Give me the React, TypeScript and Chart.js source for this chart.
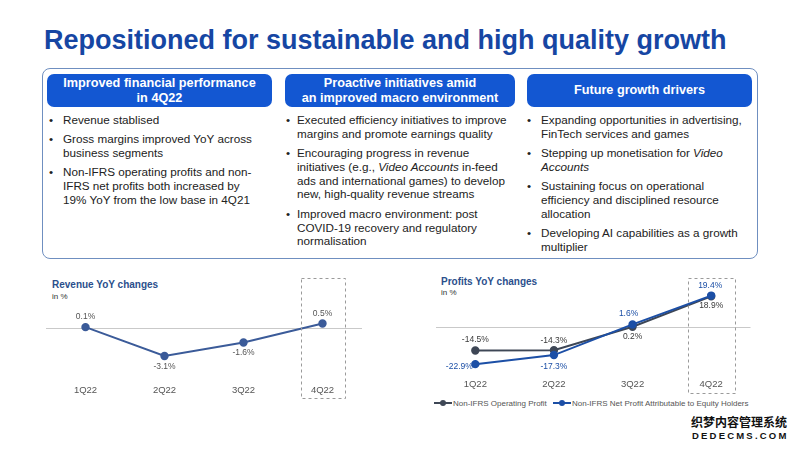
import React, { useEffect, useRef } from "react";
import { Chart, registerables } from "chart.js";
Chart.register(...registerables);

// ---------- data ----------
const quarters = ["1Q22", "2Q22", "3Q22", "4Q22"];
const revenueYoY = [0.1, -3.1, -1.6, 0.5];
const opProfitYoY = [-14.5, -14.3, 0.2, 18.9];
const netProfitYoY = [-22.9, -17.3, 1.6, 19.4];
const seriesNames = ["Non-IFRS Operating Profit", "Non-IFRS Net Profit Attributable to Equity Holders"];

const slideTitle = "Repositioned for sustainable and high quality growth";
const headers = [
  ["Improved financial performance", "in 4Q22"],
  ["Proactive initiatives amid", "an improved macro environment"],
  ["Future growth drivers"],
];
const col1Bullets = [
  ["Revenue stablised"],
  ["Gross margins improved YoY across", "business segments"],
  ["Non-IFRS operating profits and non-", "IFRS net profits both increased by", "19% YoY from the low base in 4Q21"],
];
const col2Bullets = [
  ["Executed efficiency initiatives to improve", "margins and promote earnings quality"],
  ["Encouraging progress in revenue", "initiatives (e.g., *Video Accounts* in-feed", "ads and international games) to develop", "new, high-quality revenue streams"],
  ["Improved macro environment: post", "COVID-19 recovery and regulatory", "normalisation"],
];
const col3Bullets = [
  ["Expanding opportunities in advertising,", "FinTech services and games"],
  ["Stepping up monetisation for *Video*", "*Accounts*"],
  ["Sustaining focus on operational", "efficiency and disciplined resource", "allocation"],
  ["Developing AI capabilities as a growth", "multiplier"],
];

// ---------- styles ----------
const FONT = '"Liberation Sans", Arial, Helvetica, sans-serif';
const TITLE_BLUE = "#1646a3";
const PILL_BLUE = "#1357d2";
const REV_COLOR = "#3b5b99";
const OP_COLOR = "#3e4756";
const NET_COLOR = "#1c4fa6";

// label offsets (px) relative to each point
const revLabelOffsets = [[0, -10], [0, 11], [0, 10], [0, -10]];
const opLabelOffsets = [[0, -11], [0, -10], [0, 10], [0, 9]];
const netLabelOffsets = [[-16, 3], [0, 12], [-4, -11], [-1, -10]];

const fmt = (v: number) => v.toFixed(1) + "%";

const zeroLine = {
  id: "zeroLine",
  beforeDatasetsDraw(chart: any) {
    const { ctx, chartArea, scales } = chart;
    const y = Math.round(scales.y.getPixelForValue(0)) + 0.5;
    ctx.save();
    ctx.strokeStyle = "#c9c9c9";
    ctx.lineWidth = 1;
    ctx.beginPath();
    ctx.moveTo(chartArea.left, y);
    ctx.lineTo(chartArea.right, y);
    ctx.stroke();
    ctx.restore();
  },
};

const valueLabels = {
  id: "valueLabels",
  afterDatasetsDraw(chart: any, _a: any, opts: any) {
    const { ctx } = chart;
    ctx.save();
    ctx.font = `8.5px ${FONT}`;
    ctx.textAlign = "center";
    ctx.textBaseline = "middle";
    chart.data.datasets.forEach((ds: any, di: number) => {
      const meta = chart.getDatasetMeta(di);
      const offs = opts.offsets[di];
      ctx.fillStyle = opts.colors[di];
      meta.data.forEach((el: any, i: number) => {
        ctx.fillText(fmt(ds.data[i]), el.x + offs[i][0], el.y + offs[i][1]);
      });
    });
    ctx.restore();
  },
};

const dashedBox = {
  id: "dashedBox",
  afterDraw(chart: any, _a: any, opts: any) {
    const { ctx, scales } = chart;
    const cx = scales.x.getPixelForValue(opts.index);
    ctx.save();
    ctx.strokeStyle = "#9a9a9a";
    ctx.lineWidth = 1;
    ctx.setLineDash([3, 3]);
    ctx.strokeRect(Math.round(cx - opts.half) + 0.5, opts.top + 0.5, opts.half * 2, opts.height);
    ctx.restore();
  },
};

function ChartCanvas({ box, config }: { box: any; config: any }) {
  const ref = useRef<HTMLCanvasElement>(null);
  useEffect(() => {
    const c = new Chart(ref.current as HTMLCanvasElement, config);
    return () => c.destroy();
  }, []);
  return (
    <div style={{ position: "absolute", ...box }}>
      <canvas ref={ref} />
    </div>
  );
}

function renderLine(line: string, key: number) {
  const parts = line.split("*");
  return (
    <div key={key} style={{ whiteSpace: "nowrap" }}>
      {parts.map((p, i) => (i % 2 === 1 ? <i key={i}>{p}</i> : <span key={i}>{p}</span>))}
    </div>
  );
}

function BulletColumn({ items, bulletX, textX }: { items: string[][]; bulletX: number; textX: number }) {
  return (
    <div style={{ position: "absolute", left: textX, top: 113, fontFamily: FONT, fontSize: 11.7, lineHeight: "13.8px", color: "#222" }}>
      {items.map((lines, bi) => (
        <div key={bi} style={{ position: "relative", marginTop: bi === 0 ? 0 : 5.5 }}>
          <span style={{ position: "absolute", left: bulletX - textX - 2, top: 0 }}>•</span>
          {lines.map((l, li) => renderLine(l, li))}
        </div>
      ))}
    </div>
  );
}

function Pill({ left, width, lines }: { left: number; width: number; lines: string[] }) {
  return (
    <div
      style={{
        position: "absolute", left, top: 74, width, height: 33, background: PILL_BLUE, borderRadius: 7,
        color: "#fff", fontFamily: FONT, fontWeight: "bold", fontSize: 12.7, lineHeight: "15px",
        display: "flex", flexDirection: "column", alignItems: "center", justifyContent: "center", textAlign: "center",
      }}
    >
      {lines.map((l, i) => (
        <div key={i} style={{ whiteSpace: "nowrap" }}>{l}</div>
      ))}
    </div>
  );
}

export default function App() {
  const tickFont = { family: FONT, size: 9.5 };

  const revConfig = {
    type: "line",
    data: {
      labels: quarters,
      datasets: [
        { data: revenueYoY, borderColor: REV_COLOR, backgroundColor: REV_COLOR, borderWidth: 2, pointRadius: 3.2, tension: 0 },
      ],
    },
    options: {
      animation: false, responsive: true, maintainAspectRatio: false, events: [],
      layout: { padding: { left: 5, right: 8, top: 31, bottom: 0 } },
      plugins: {
        legend: { display: false }, tooltip: { enabled: false },
        valueLabels: { offsets: [revLabelOffsets], colors: ["#555"] },
        dashedBox: { index: 3, half: 22, top: 8, height: 120 },
      },
      scales: {
        x: { offset: true, grid: { display: false, drawTicks: false }, border: { display: false }, ticks: { color: "#555", font: tickFont, padding: 16.5 } },
        y: { display: false, min: -4.5, max: 3 },
      },
    },
    plugins: [zeroLine, valueLabels, dashedBox],
  };

  const profitConfig = {
    type: "line",
    data: {
      labels: quarters,
      datasets: [
        { label: seriesNames[0], data: opProfitYoY, borderColor: OP_COLOR, backgroundColor: OP_COLOR, borderWidth: 2, pointRadius: 3.2, tension: 0, order: 2 },
        { label: seriesNames[1], data: netProfitYoY, borderColor: NET_COLOR, backgroundColor: NET_COLOR, borderWidth: 2, pointRadius: 3.2, tension: 0, order: 1 },
      ],
    },
    options: {
      animation: false, responsive: true, maintainAspectRatio: false, events: [],
      layout: { padding: { left: 4.5, right: 9.5, top: 16.5, bottom: 0 } },
      plugins: {
        legend: { display: false }, tooltip: { enabled: false },
        valueLabels: { offsets: [opLabelOffsets, netLabelOffsets], colors: ["#3a3a3a", NET_COLOR] },
        dashedBox: { index: 3, half: 23.5, top: 8, height: 115 },
      },
      scales: {
        x: { offset: true, grid: { display: false, drawTicks: false }, border: { display: false }, ticks: { color: "#555", font: tickFont, padding: 6.6 } },
        y: { display: false, min: -28, max: 25 },
      },
    },
    plugins: [zeroLine, valueLabels, dashedBox],
  };

  const legendItem = (color: string, lineLeft: number, text: string) => (
    <div style={{ position: "absolute", left: lineLeft, top: 397, height: 12, display: "flex", alignItems: "center", fontFamily: FONT, fontSize: 8, color: "#555", whiteSpace: "nowrap" }}>
      <div style={{ position: "relative", width: 18, height: 12, marginRight: 1 }}>
        <div style={{ position: "absolute", left: 0, right: 0, top: 5, height: 2, background: color }} />
        <div style={{ position: "absolute", left: 6, top: 3, width: 6, height: 6, borderRadius: 3, background: color }} />
      </div>
      <span>{text}</span>
    </div>
  );

  return (
    <div style={{ position: "absolute", left: 0, top: 0, width: 800, height: 450, background: "#fff", overflow: "hidden" }}>
      <div style={{ position: "absolute", left: 44, top: 27, fontFamily: FONT, fontWeight: "bold", fontSize: 27, lineHeight: "27px", color: TITLE_BLUE, whiteSpace: "nowrap" }}>
        {slideTitle}
      </div>

      <div style={{ position: "absolute", left: 42, top: 68, width: 714, height: 189, border: "1px solid #6f8fc0", borderRadius: 8 }} />

      <Pill left={47} width={225} lines={headers[0]} />
      <Pill left={285} width={230} lines={headers[1]} />
      <Pill left={527} width={225} lines={headers[2]} />

      <BulletColumn items={col1Bullets} bulletX={51} textX={63} />
      <BulletColumn items={col2Bullets} bulletX={288} textX={297} />
      <BulletColumn items={col3Bullets} bulletX={529} textX={541} />

      <div style={{ position: "absolute", left: 52, top: 279, fontFamily: FONT, fontWeight: "bold", fontSize: 10, color: "#2b4f8c", whiteSpace: "nowrap" }}>Revenue YoY changes</div>
      <div style={{ position: "absolute", left: 52, top: 292, fontFamily: FONT, fontSize: 8, color: "#333" }}>in %</div>

      <div style={{ position: "absolute", left: 441, top: 276, fontFamily: FONT, fontWeight: "bold", fontSize: 10, color: "#2b4f8c", whiteSpace: "nowrap" }}>Profits YoY changes</div>
      <div style={{ position: "absolute", left: 441, top: 288, fontFamily: FONT, fontSize: 8, color: "#333" }}>in %</div>

      <ChartCanvas box={{ left: 40, top: 270, width: 330, height: 143 }} config={revConfig} />
      <ChartCanvas box={{ left: 430, top: 270, width: 330, height: 127 }} config={profitConfig} />

      {legendItem(OP_COLOR, 434, seriesNames[0])}
      {legendItem(NET_COLOR, 553, seriesNames[1])}

      <div style={{ position: "absolute", left: 691, top: 415, fontFamily: '"Noto Sans CJK SC", sans-serif', fontWeight: "bold", fontSize: 12, lineHeight: "14px", color: "#111", textShadow: "1px 1px 0 #fff, -1px -1px 0 #fff, 1px -1px 0 #fff, -1px 1px 0 #fff", whiteSpace: "nowrap" }}>织梦内容管理系统</div>
      <div style={{ position: "absolute", left: 692, top: 430, fontFamily: FONT, fontWeight: "bold", fontSize: 9.5, lineHeight: "11px", letterSpacing: 2.2, color: "#111", textShadow: "1px 1px 0 #fff, -1px -1px 0 #fff", whiteSpace: "nowrap" }}>DEDECMS.COM</div>
    </div>
  );
}
